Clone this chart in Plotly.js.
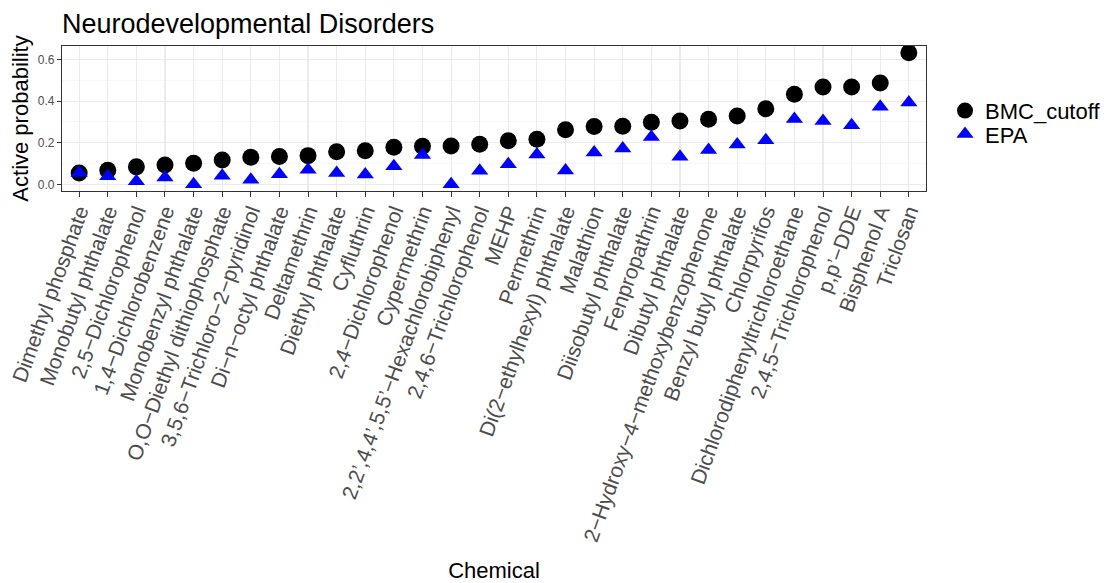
<!DOCTYPE html>
<html>
<head>
<meta charset="utf-8">
<script src="https://cdn.plot.ly/plotly-3.0.1.min.js"></script>
<style>html,body{margin:0;padding:0;background:#fff;}#chart{width:1110px;height:583px;}</style>
</head>
<body>
<div id="chart"></div>
<script>
var chemicals = [
  "Dimethyl phosphate", "Monobutyl phthalate", "2,5\u2212Dichlorophenol", "1,4\u2212Dichlorobenzene",
  "Monobenzyl phthalate", "O,O\u2212Diethyl dithiophosphate", "3,5,6\u2212Trichloro\u22122\u2212pyridinol",
  "Di\u2212n\u2212octyl phthalate", "Deltamethrin", "Diethyl phthalate", "Cyfluthrin", "2,4\u2212Dichlorophenol",
  "Cypermethrin", "2,2\u2019,4,4\u2019,5,5\u2019\u2212Hexachlorobiphenyl", "2,4,6\u2212Trichlorophenol", "MEHP", "Permethrin",
  "Di(2\u2212ethylhexyl) phthalate", "Malathion", "Diisobutyl phthalate", "Fenpropathrin", "Dibutyl phthalate",
  "2\u2212Hydroxy\u22124\u2212methoxybenzophenone", "Benzyl butyl phthalate", "Chlorpyrifos",
  "Dichlorodiphenyltrichloroethane", "2,4,5\u2212Trichlorophenol", "p,p\u2019\u2212DDE", "Bisphenol A", "Triclosan"
];
var bmcCutoff = [0.055, 0.068, 0.084, 0.093, 0.101, 0.117, 0.130, 0.134, 0.138, 0.157,
                 0.162, 0.178, 0.183, 0.184, 0.193, 0.210, 0.217, 0.262, 0.278, 0.279,
                 0.299, 0.305, 0.313, 0.328, 0.363, 0.433, 0.468, 0.468, 0.487, 0.633];
var epa = [0.054, 0.039, 0.015, 0.033, 0.000, 0.041, 0.022, 0.048, 0.070, 0.055,
           0.047, 0.087, 0.141, 0.000, 0.065, 0.097, 0.144, 0.066, 0.153, 0.172,
           0.228, 0.133, 0.165, 0.192, 0.212, 0.314, 0.304, 0.284, 0.373, 0.393];
var yTicks = [0.0, 0.2, 0.4, 0.6];
var yTickText = ["0.0", "0.2", "0.4", "0.6"];
var yMinorTicks = [0.1, 0.3, 0.5];

var font = "Liberation Sans, Arial, Helvetica, sans-serif";

var traces = [
  {x: chemicals, y: bmcCutoff, name: "BMC_cutoff", type: "scatter", mode: "markers", legend: "legend",
   marker: {symbol: "circle", size: 17, color: "#000000", line: {width: 0}}},
  {x: chemicals, y: epa, name: "EPA", type: "scatter", mode: "markers", legend: "legend2",
   marker: {symbol: "triangle-up", size: 15, color: "#0000FF", line: {width: 0}}}
];

var legendBase = {x: 1.022, xanchor: "left", yanchor: "middle", yref: "paper",
                  font: {size: 22, color: "#000000", family: font}, bgcolor: "rgba(0,0,0,0)",
                  itemwidth: 30, borderwidth: 0};

var layout = {
  width: 1110, height: 583,
  paper_bgcolor: "#ffffff", plot_bgcolor: "#ffffff",
  margin: {l: 62, r: 184, t: 46, b: 392, pad: 0, autoexpand: false},
  font: {family: font, color: "#000000"},
  title: {text: "Neurodevelopmental Disorders", font: {size: 27, color: "#000000", family: font},
          x: 0, xref: "paper", xanchor: "left", y: 0.960, yref: "container", yanchor: "middle"},
  showlegend: true,
  legend: Object.assign({}, legendBase, {y: 0.553}),
  legend2: Object.assign({}, legendBase, {y: 0.392}),
  xaxis: {
    type: "category", categoryorder: "array", categoryarray: chemicals,
    range: [-0.6, 29.6], autorange: false,
    tickangle: -70, tickfont: {size: 21, color: "#4D4D4D", family: font},
    ticklabelstandoff: -6,
    ticks: "outside", ticklen: 5, tickwidth: 1, tickcolor: "#333333",
    showgrid: true, gridcolor: "#EBEBEB", gridwidth: 1.1,
    showline: true, linecolor: "#333333", linewidth: 1.1, mirror: true,
    zeroline: false, automargin: false,
    title: {text: "Chemical", font: {size: 22, color: "#000000", family: font}, standoff: 18}
  },
  yaxis: {
    range: [-0.032, 0.665], autorange: false,
    tickmode: "array", tickvals: yTicks, ticktext: yTickText,
    tickfont: {size: 12, color: "#4D4D4D", family: font},
    ticks: "outside", ticklen: 4, tickwidth: 1, tickcolor: "#333333",
    showgrid: true, gridcolor: "#EBEBEB", gridwidth: 1.1,
    minor: {tickmode: "array", tickvals: yMinorTicks, showgrid: true, gridcolor: "#F2F2F2", gridwidth: 0.6, ticks: ""},
    showline: true, linecolor: "#333333", linewidth: 1.1, mirror: true,
    zeroline: false, automargin: false,
    title: {text: "Active probability", font: {size: 22, color: "#000000", family: font}, standoff: 3}
  }
};

Plotly.newPlot("chart", traces, layout, {displayModeBar: false, staticPlot: true});
</script>
</body>
</html>
